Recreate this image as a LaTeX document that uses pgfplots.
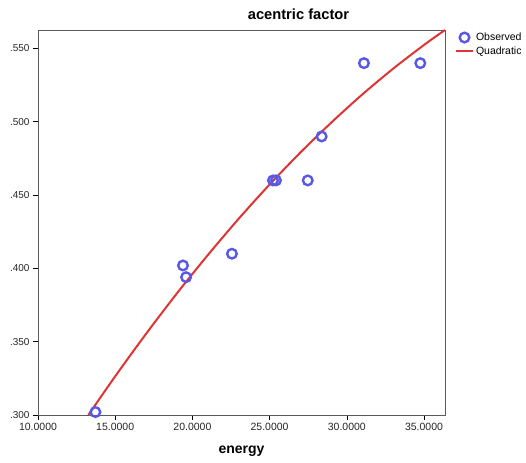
\documentclass[border=0pt]{standalone}
\usepackage{pgfplots}
\pgfplotsset{compat=1.18}
\usepackage{fontspec}
\setmainfont{Liberation Sans}
\definecolor{obsblue}{RGB}{88,88,230}
\definecolor{fitred}{RGB}{222,52,52}
\definecolor{boxgray}{RGB}{90,90,90}
\begin{document}
\begin{tikzpicture}[x=1pt,y=1pt]
\useasboundingbox (-38,-47) rectangle (488,415);
\begin{axis}[
  at={(0,0)}, anchor=south west,
  scale only axis, width=407pt, height=385pt,
  xmin=10, xmax=36.36, ymin=0.300, ymax=0.5626,
  xtick={10,15,20,25,30,35},
  ytick={0.30,0.35,0.40,0.45,0.50,0.55},
  axis line style={boxgray, line width=0.8pt},
  tick style={black, line width=0.6pt},
  tick align=outside, major tick length=5pt,
  xtick pos=bottom, ytick pos=left,
  tick label style={text=black!85},
  xticklabel style={font=\fontsize{10.5}{12}\selectfont},
  yticklabel style={font=\fontsize{10}{12}\selectfont},
  /pgf/number format/assume math mode=true,
  xticklabel style={/pgf/number format/.cd, fixed, fixed zerofill, precision=4},
  yticklabel style={/pgf/number format/.cd, fixed, fixed zerofill, precision=3, skip 0.},
  scaled ticks=false,
  title={acentric factor},
  title style={font=\fontsize{14.7}{16}\selectfont\bfseries, at={(axis description cs:0.64,1)}, anchor=center, yshift=10pt},
  xlabel={energy},
  xlabel style={font=\fontsize{14}{16}\selectfont\bfseries, at={(axis description cs:0.5,0)}, anchor=center, yshift=-36pt},
  legend style={draw=none, fill=none, inner sep=0pt, at={(axis description cs:1.024,0.998)}, anchor=north west,
    font=\fontsize{10.5}{11}\selectfont, nodes={inner sep=2pt, anchor=west}, row sep=0.5pt},
  legend cell align=left,
  clip=true,
]
\addplot[only marks, mark=o, mark size=4.8pt, obsblue, line width=2.4pt] coordinates {
  (13.72,0.302) (19.39,0.402) (19.59,0.394) (22.56,0.410) (25.22,0.460)
  (25.41,0.460) (27.47,0.460) (28.37,0.490) (31.11,0.540) (34.76,0.540)
};
\addlegendentry{Observed}
\addplot[fitred, line width=2pt, smooth] coordinates {
  (13.26,0.3000) (15,0.3264) (17,0.3554) (19,0.3830) (21,0.4091) (23,0.4339)
  (25,0.4572) (27,0.4791) (29,0.4995) (31,0.5186) (33,0.5362) (35,0.5524) (36.36,0.5626)
};
\addlegendentry{Quadratic}
\end{axis}
\end{tikzpicture}
\end{document}
